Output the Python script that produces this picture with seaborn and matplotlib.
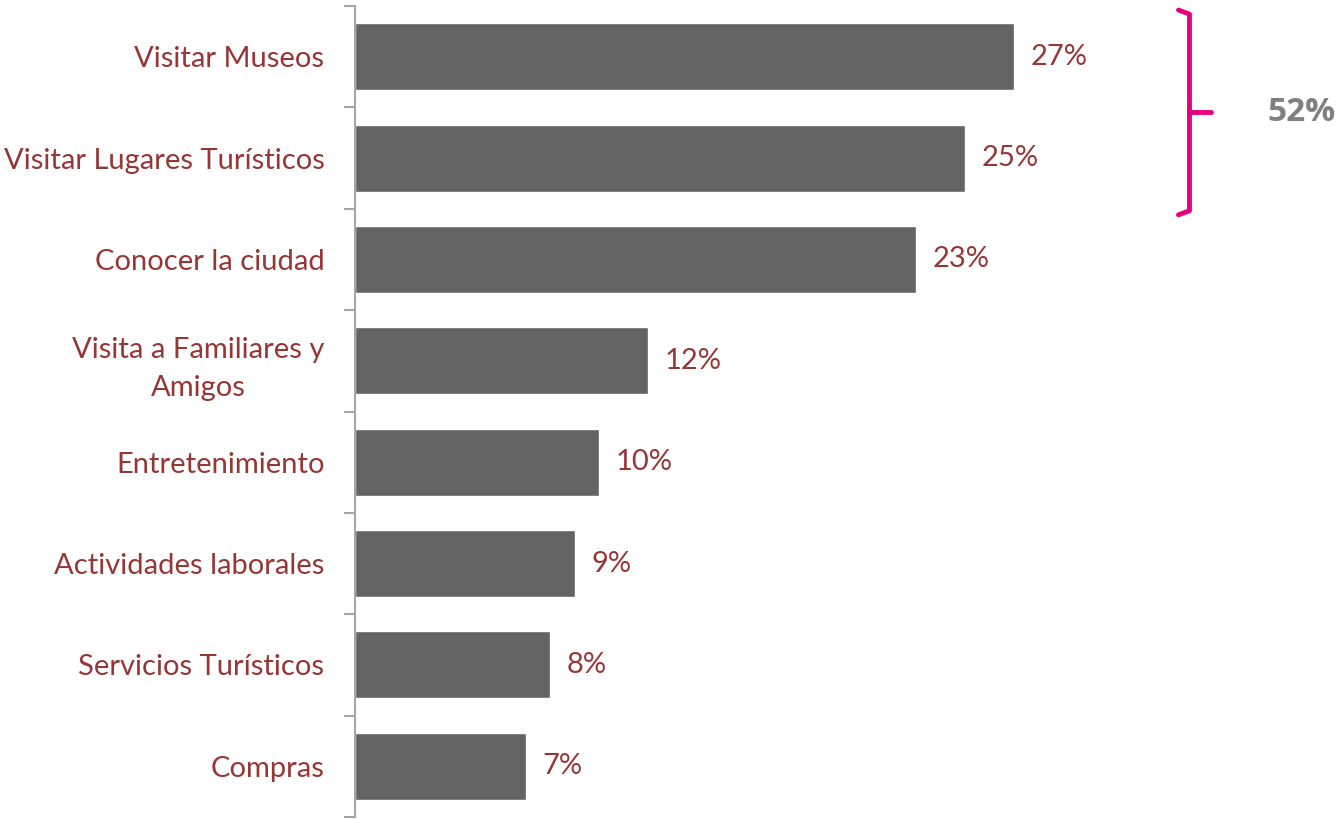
import matplotlib
matplotlib.use("Agg")
import matplotlib.pyplot as plt
import seaborn as sns
import pandas as pd

categories = ["Visitar Museos", "Visitar Lugares Turísticos", "Conocer la ciudad",
              "Visita a Familiares y\nAmigos", "Entretenimiento", "Actividades laborales",
              "Servicios Turísticos", "Compras"]
values = [27, 25, 23, 12, 10, 9, 8, 7]
bracket_total = "52%"

label_red = "#953735"
bar_gray = "#636363"

sns.set_theme(style="white")
plt.rcParams["font.family"] = ["Lato", "DejaVu Sans"]

df = pd.DataFrame({"motivo": categories, "pct": values})

fig = plt.figure(figsize=(13.41, 8.19), dpi=100)
ax = fig.add_axes([355 / 1341, 2 / 819, 976 / 1341, 811 / 819])
sns.barplot(data=df, x="pct", y="motivo", color=bar_gray, width=0.66,
            saturation=1, ax=ax, orient="h")

ax.set_xlim(0, 40)
ax.set_ylim(len(categories) - 0.5, -0.5)
ax.set_xlabel("")
ax.set_ylabel("")
ax.set_xticks([])

for side in ["top", "right", "bottom"]:
    ax.spines[side].set_visible(False)
ax.spines["left"].set_color("#a6a6a6")
ax.spines["left"].set_linewidth(1.5)

ax.set_yticks(range(len(categories)))
ax.set_yticklabels(categories)
ax.set_yticks([i - 0.5 for i in range(len(categories) + 1)], minor=True)
ax.tick_params(axis="y", which="major", length=0, pad=22, labelsize=21, labelcolor=label_red)
ax.tick_params(axis="y", which="minor", length=8, width=1.5, color="#a6a6a6", left=True)
for lbl in ax.get_yticklabels():
    lbl.set_multialignment("center")
    lbl.set_linespacing(1.55)

ax.bar_label(ax.containers[0], labels=[f"{v}%" for v in values], padding=12,
             fontsize=21, color=label_red)

# bracket grouping the top two categories
bx, top, bot = 34.2, -0.46, 1.56
ax.plot([bx - 0.45, bx, bx, bx - 0.45], [top, top + 0.04, bot - 0.04, bot],
        color="#e6007e", lw=3.5, solid_capstyle="round", solid_joinstyle="round",
        clip_on=False)
mid = (top + bot) / 2
ax.plot([bx, bx + 0.9], [mid, mid], color="#e6007e", lw=3.5,
        solid_capstyle="round", clip_on=False)
ax.text(38.8, mid, bracket_total, ha="center", va="center", fontsize=24,
        fontweight="bold", family=["Open Sans", "DejaVu Sans"], color="#808080")

fig.savefig("out.png", dpi=100)
